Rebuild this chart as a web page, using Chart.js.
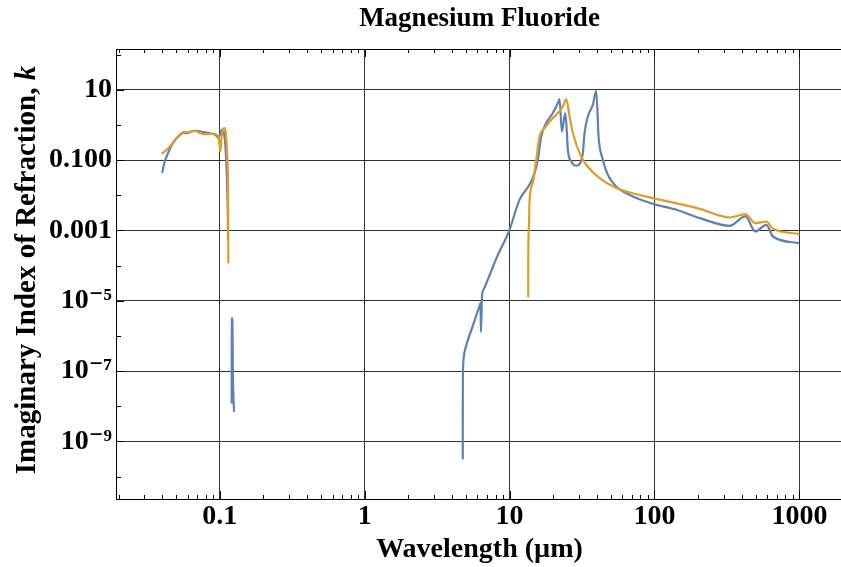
<!DOCTYPE html>
<html>
<head>
<meta charset="utf-8">
<script src="https://cdn.jsdelivr.net/npm/chart.js@4.4.1/dist/chart.umd.min.js"></script>
<style>
  html, body { margin: 0; padding: 0; background: #fff; overflow: hidden; }
  #wrap { width: 841px; height: 567px; overflow: hidden; }
</style>
</head>
<body>
<div id="wrap"><canvas id="chart" width="850" height="567"></canvas></div>
<script>
// Magnesium Fluoride, imaginary index k vs wavelength (log-log)

const xTickValues = [0.1, 1, 10, 100, 1000];
const xTickLabels = ["0.1", "1", "10", "100", "1000"];
const yTickValues = [1e-9, 1e-7, 1e-5, 1e-3, 1e-1, 10];
const yTickLabels = ["10\u207B\u2079", "10\u207B\u2077", "10\u207B\u2075", "0.001", "0.100", "10"];

// blue series (null y = gap)
const blueX = [
  0.040, 0.0414, 0.0434, 0.0463, 0.0493, 0.0525, 0.056, 0.0596, 0.0636, 0.0688,
  0.0745, 0.0807, 0.0874, 0.093, 0.0976, 0.1008, 0.1032, 0.1057, 0.1091, 0.1118,
  0.1136, 0.1139,
  0.115,
  0.1207, 0.1209, 0.1214, 0.1222, 0.1230, 0.1253,
  1,
  4.75, 4.751, 4.77, 4.84, 4.96, 5.54, 6.2, 6.3, 6.34, 6.45, 6.6, 8.08, 9.98,
  11.7, 13.7, 14.86, 15.66, 16.53, 17.9, 19.88, 21.53, 22.12, 22.94, 24.21,
  24.83, 25.23, 26.64, 28.84, 30.73, 32.03, 32.9, 34.67, 37.54, 39.63, 41.1,
  44.0, 47.6, 54.5, 70.9, 97.5, 141.5, 205, 330, 424, 497, 592, 657, 1000
];
const blueY = [
  0.043, 0.084, 0.14, 0.255, 0.378, 0.49, 0.6, 0.58, 0.66, 0.68,
  0.64, 0.6, 0.56, 0.525, 0.43, 0.56, 0.73, 0.68, 0.27, 0.038,
  0.002, 0.00054,
  null,
  1.2e-8, 1e-6, 3.2e-6, 2.5e-6, 1e-7, 6.9e-9,
  null,
  3.1e-10, 4.1e-9, 1.08e-7, 2.7e-7, 4.5e-7, 1.8e-6, 7.2e-6, 8.7e-6, 1.28e-6,
  1.38e-5, 2.04e-5, 1.56e-4, 1.04e-3,
  7.4e-3, 0.0198, 0.0427, 0.102, 0.469, 1.13, 2.17, 4.18, 5.44, 0.65, 2.17,
  0.65, 0.196, 0.0912, 0.0689, 0.0822, 0.158, 0.586, 1.74, 3.74, 9.35, 0.469,
  0.102, 0.0382, 0.0177, 9.2e-3, 5.7e-3, 3.85e-3, 2.24e-3, 1.35e-3, 2.49e-3,
  9.3e-4, 1.44e-3, 6.7e-4, 4.35e-4
];

// orange series
const orangeX = [
  0.0396, 0.0427, 0.0463, 0.0508, 0.0569, 0.0616, 0.0667, 0.0722, 0.0794, 0.0874,
  0.093, 0.0976, 0.1, 0.1008, 0.1024, 0.1049, 0.1074, 0.11, 0.1127, 0.1141, 0.1145,
  1,
  13.44, 13.45, 13.61, 13.7, 14.45, 15.27, 16.09, 17.42, 19.38, 21.53, 23.31,
  24.6, 25.93, 27.33, 30.39, 33.8, 41.8, 54.5, 70.9, 97.5, 205, 330, 424, 497,
  592, 657, 1000
];
const orangeY = [
  0.151, 0.19, 0.272, 0.445, 0.638, 0.618, 0.682, 0.598, 0.542, 0.56,
  0.542, 0.46, 0.224, 0.172, 0.378, 0.728, 0.813, 0.598, 0.102, 7.4e-3, 1.17e-4,
  null,
  1.26e-5, 1.56e-4, 1.44e-3, 5.98e-3, 0.0222, 0.102, 0.469, 0.813, 1.4, 2.17, 3.35,
  5.44, 1.74, 0.586, 0.158, 0.0735, 0.0308, 0.016, 0.0114, 8.3e-3, 4.1e-3, 2.33e-3,
  2.91e-3, 1.61e-3, 1.79e-3, 1.11e-3, 8.0e-4
];

const X_MIN = 0.0192, X_MAX = 2000;
const Y_MIN = 2.3e-11, Y_MAX = 144;

const serif = '"Liberation Serif", "DejaVu Serif", "Times New Roman", serif';
const tickFont = { family: serif, weight: 'bold', size: 28 };
const labelFont = { family: serif, weight: 'bold', size: 28 };

const toPoints = (xs, ys) => xs.map((x, i) => ({ x: x, y: ys[i] }));

// inward minor ticks on bottom/top/left
const minorTicks = {
  id: 'minorTicks',
  afterDatasetsDraw(chart) {
    const { ctx, chartArea: a, scales: { x, y } } = chart;
    ctx.save();
    ctx.strokeStyle = '#000';
    ctx.lineWidth = 1;
    ctx.beginPath();
    for (let d = -2; d <= 3; d++) {
      for (let m = 1; m <= 9; m++) {
        const v = m * Math.pow(10, d);
        if (v < X_MIN || v > X_MAX) continue;
        const px = Math.round(x.getPixelForValue(v)) + 0.5;
        const len = m === 1 ? 8 : 4;
        ctx.moveTo(px, a.bottom);
        ctx.lineTo(px, a.bottom - len);
        ctx.moveTo(px, a.top);
        ctx.lineTo(px, a.top + len);
      }
    }
    for (let e = -11; e <= 2; e++) {
      const v = Math.pow(10, e);
      if (v < Y_MIN || v > Y_MAX) continue;
      const py = Math.round(y.getPixelForValue(v)) + 0.5;
      ctx.moveTo(a.left, py);
      ctx.lineTo(a.left + (e % 2 ? 8 : 5), py);
    }
    ctx.stroke();
    ctx.restore();
  }
};

// y axis title with italic k
const yTitle = {
  id: 'yTitle',
  afterDraw(chart) {
    const { ctx, chartArea: a } = chart;
    const main = 'Imaginary Index of Refraction, ';
    const sym = 'k';
    const f1 = 'bold 29px ' + serif;
    const f2 = 'italic bold 29px ' + serif;
    ctx.save();
    ctx.font = f1;
    const w1 = ctx.measureText(main).width;
    ctx.font = f2;
    const w2 = ctx.measureText(sym).width;
    ctx.translate(28, (a.top + a.bottom) / 2 - 4);
    ctx.rotate(-Math.PI / 2);
    ctx.fillStyle = '#000';
    ctx.textBaseline = 'middle';
    ctx.textAlign = 'left';
    const x0 = -(w1 + w2) / 2;
    ctx.font = f1;
    ctx.fillText(main, x0, 0);
    ctx.font = f2;
    ctx.fillText(sym, x0 + w1, 0);
    ctx.restore();
  }
};

new Chart(document.getElementById('chart'), {
  type: 'line',
  data: {
    datasets: [
      {
        label: 'blue',
        data: toPoints(blueX, blueY),
        borderColor: '#5E81B5',
        borderWidth: 2.2,
        pointRadius: 0,
        cubicInterpolationMode: 'monotone',
        spanGaps: false,
        order: 2
      },
      {
        label: 'orange',
        data: toPoints(orangeX, orangeY),
        borderColor: '#E19C24',
        borderWidth: 2.2,
        pointRadius: 0,
        cubicInterpolationMode: 'monotone',
        spanGaps: false,
        order: 1
      }
    ]
  },
  options: {
    responsive: false,
    animation: false,
    layout: { padding: { left: 0, right: 7, top: 0, bottom: 0 } },
    plugins: {
      legend: { display: false },
      tooltip: { enabled: false },
      title: { display: false }
    },
    scales: {
      x: {
        type: 'logarithmic',
        position: 'bottom',
        min: X_MIN,
        max: X_MAX,
        afterBuildTicks: (s) => { s.ticks = xTickValues.map(v => ({ value: v })); },
        afterFit: (s) => { s.height = 68; },
        ticks: {
          autoSkip: false,
          maxRotation: 0,
          padding: 1,
          color: '#000',
          font: tickFont,
          callback: (v) => xTickLabels[xTickValues.indexOf(v)]
        },
        grid: { color: 'rgba(0,0,0,0.8)', lineWidth: 1, drawTicks: false },
        border: { display: true, color: '#000', width: 1 },
        title: {
          display: true,
          text: 'Wavelength (\u00B5m)',
          color: '#000',
          font: labelFont,
          padding: { top: 0, bottom: 0 }
        }
      },
      x2: {
        type: 'logarithmic',
        position: 'top',
        min: X_MIN,
        max: X_MAX,
        afterFit: (s) => { s.height = 49; },
        ticks: { display: false },
        grid: { drawOnChartArea: false, drawTicks: false },
        border: { display: true, color: '#000', width: 1 },
        title: {
          display: true,
          text: 'Magnesium Fluoride',
          color: '#000',
          font: { family: serif, weight: 'bold', size: 27 },
          padding: { top: 3, bottom: 0 }
        }
      },
      y: {
        type: 'logarithmic',
        position: 'left',
        min: Y_MIN,
        max: Y_MAX,
        afterBuildTicks: (s) => { s.ticks = yTickValues.map(v => ({ value: v })); },
        afterFit: (s) => { s.width = 116; },
        ticks: {
          autoSkip: false,
          padding: 4,
          color: '#000',
          font: tickFont,
          callback: (v) => yTickLabels[yTickValues.indexOf(v)]
        },
        grid: { color: 'rgba(0,0,0,0.8)', lineWidth: 1, drawTicks: false },
        border: { display: true, color: '#000', width: 1 },
        title: { display: false }
      }
    }
  },
  plugins: [minorTicks, yTitle]
});
</script>
</body>
</html>
